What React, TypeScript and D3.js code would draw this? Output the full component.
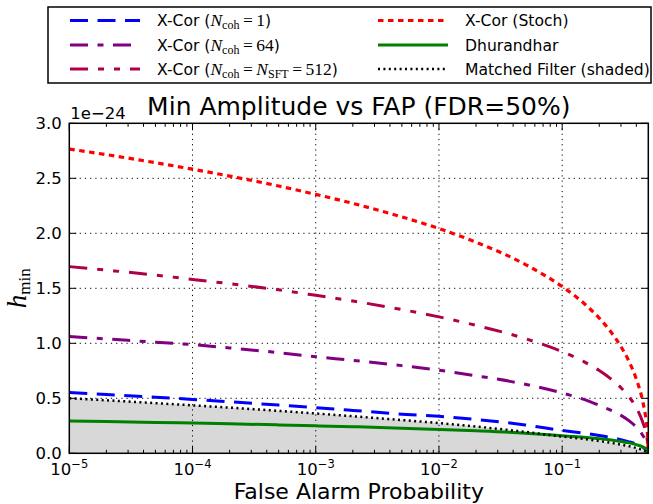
import React from 'react';
import * as d3 from 'd3';

// False alarm probabilities at which the curves were read
const FAP = [1e-5, 2e-5, 5e-5, 1e-4, 2e-4, 5e-4, 1e-3, 2e-3, 5e-3, 1e-2, 2e-2, 5e-2, 0.1, 0.15, 0.2, 0.25, 0.3, 0.35, 0.4, 0.45, 0.48, 0.49, 0.5];

// h_min values (units of 1e-24)
const XCOR_N1 = [0.552, 0.535, 0.510, 0.490, 0.468, 0.438, 0.415, 0.390, 0.356, 0.336, 0.307, 0.258, 0.208, 0.183, 0.162, 0.143, 0.124, 0.104, 0.082, 0.054, 0.032, 0.022, 0];
const XCOR_N64 = [1.062, 1.040, 1.010, 0.988, 0.958, 0.915, 0.878, 0.845, 0.797, 0.755, 0.705, 0.628, 0.548, 0.490, 0.436, 0.390, 0.345, 0.295, 0.238, 0.165, 0.105, 0.072, 0];
const XCOR_N512 = [1.697, 1.665, 1.620, 1.580, 1.542, 1.486, 1.436, 1.384, 1.307, 1.240, 1.163, 1.043, 0.924, 0.833, 0.752, 0.674, 0.596, 0.511, 0.414, 0.285, 0.180, 0.125, 0];
const XCOR_STOCH = [2.766, 2.715, 2.642, 2.583, 2.520, 2.430, 2.354, 2.272, 2.149, 2.043, 1.919, 1.718, 1.516, 1.364, 1.229, 1.100, 0.970, 0.831, 0.674, 0.475, 0.300, 0.212, 0];
const DHURANDHAR = [0.294, 0.2885, 0.281, 0.2745, 0.268, 0.258, 0.250, 0.2415, 0.2285, 0.217, 0.204, 0.183, 0.160, 0.146, 0.133, 0.121, 0.108, 0.095, 0.079, 0.058, 0.038, 0.028, 0];
const MATCHED = [0.500, 0.482, 0.456, 0.436, 0.415, 0.386, 0.362, 0.337, 0.302, 0.275, 0.243, 0.195, 0.152, 0.130, 0.112, 0.095, 0.079, 0.064, 0.048, 0.029, 0.015, 0.009, 0];

const X_MAJOR = [1e-5, 1e-4, 1e-3, 1e-2, 1e-1];
const X_EXP = ['-5', '-4', '-3', '-2', '-1'];
const Y_TICKS = [0, 0.5, 1.0, 1.5, 2.0, 2.5, 3.0];

const W = 653, H = 504;
const L = 69.3, R = 648.3, T = 123.3, B = 453.3;

const SANS = 'DejaVu Sans';
const SERIF = 'Liberation Serif';
const LEG_FS = 15.6;
const MATH_FS = 17.5;

export default function App() {
  const x = d3.scaleLog().domain([1e-5, 0.5]).range([L, R]);
  const y = d3.scaleLinear().domain([0, 3]).range([B, T]);

  const mkLine = (vals: number[]) =>
    d3.line<number>().x((_, i) => x(FAP[i])).y(d => y(d)).curve(d3.curveMonotoneX)(vals) || '';
  const areaPath = d3.area<number>().x((_, i) => x(FAP[i])).y0(y(0)).y1(d => y(d)).curve(d3.curveMonotoneX)(MATCHED) || '';

  const minors: number[] = [];
  for (let k = -5; k <= -1; k++) for (let m = 2; m <= 9; m++) { const v = m * Math.pow(10, k); if (v < 0.5) minors.push(v); }

  const series = [
    { vals: XCOR_N1, color: '#0000ff', dash: '18,9.5', w: 3 },
    { vals: XCOR_N64, color: '#800080', dash: '18,9.5,6,9.5', w: 3 },
    { vals: XCOR_N512, color: '#b0004a', dash: '18,10,6,10,6,10', w: 3 },
    { vals: XCOR_STOCH, color: '#ff0000', dash: '5.5,4.5', w: 3.2 },
    { vals: DHURANDHAR, color: '#008000', dash: '', w: 3 },
    { vals: MATCHED, color: '#000000', dash: '2,3.4', w: 2.5 },
  ];

  const legendRows = [20.5, 45, 69];
  const coh = (
    <>
      <tspan fontFamily={SERIF} fontStyle="italic" fontSize={MATH_FS}>N</tspan>
      <tspan fontFamily={SERIF} fontSize={12} dy={3}>coh</tspan>
      <tspan fontFamily={SERIF} fontSize={MATH_FS} dy={-3}>{'\u2009=\u2009'}</tspan>
    </>
  );

  return (
    <svg width={W} height={H} style={{ position: 'absolute', left: 0, top: 0, background: '#fff' }}>
      <defs>
        <clipPath id="plot"><rect x={L} y={T} width={R - L} height={B - T} /></clipPath>
      </defs>
      <rect x={0} y={0} width={W} height={H} fill="#fff" />
      {/* shaded matched filter region */}
      <path d={areaPath} fill="#d8d8d8" clipPath="url(#plot)" />
      {/* grid */}
      {X_MAJOR.slice(1).map(v => (
        <line key={'gx' + v} x1={x(v)} x2={x(v)} y1={T} y2={B} stroke="#000" strokeWidth={1} strokeDasharray="1.2,4" />
      ))}
      {Y_TICKS.slice(1, -1).map(v => (
        <line key={'gy' + v} x1={L} x2={R} y1={y(v)} y2={y(v)} stroke="#000" strokeWidth={1} strokeDasharray="1.2,4" />
      ))}
      {/* series */}
      <g clipPath="url(#plot)">
        {series.map((s, i) => (
          <path key={i} d={mkLine(s.vals)} fill="none" stroke={s.color} strokeWidth={s.w} strokeDasharray={s.dash || undefined} />
        ))}
      </g>
      {/* ticks */}
      {X_MAJOR.map(v => (
        <g key={'tx' + v}>
          <line x1={x(v)} x2={x(v)} y1={B} y2={B - 7} stroke="#000" strokeWidth={1} />
          <line x1={x(v)} x2={x(v)} y1={T} y2={T + 7} stroke="#000" strokeWidth={1} />
        </g>
      ))}
      {minors.map(v => (
        <g key={'mx' + v}>
          <line x1={x(v)} x2={x(v)} y1={B} y2={B - 3.5} stroke="#000" strokeWidth={1} />
          <line x1={x(v)} x2={x(v)} y1={T} y2={T + 3.5} stroke="#000" strokeWidth={1} />
        </g>
      ))}
      {Y_TICKS.map(v => (
        <g key={'ty' + v}>
          <line x1={L} x2={L + 7} y1={y(v)} y2={y(v)} stroke="#000" strokeWidth={1} />
          <line x1={R} x2={R - 7} y1={y(v)} y2={y(v)} stroke="#000" strokeWidth={1} />
        </g>
      ))}
      {/* frame */}
      <rect x={L} y={T} width={R - L} height={B - T} fill="none" stroke="#000" strokeWidth={1.5} />
      {/* tick labels */}
      {Y_TICKS.map(v => (
        <text key={'ly' + v} x={L - 7.5} y={y(v) + 6} textAnchor="end" fontFamily={SANS} fontSize={16.5} fill="#000">{v.toFixed(1)}</text>
      ))}
      {X_MAJOR.map((v, i) => (
        <text key={'lx' + v} x={x(v)} y={475} textAnchor="middle" fontFamily={SANS} fontSize={16.5} fill="#000">
          10<tspan fontSize={11.5} dy={-7}>{X_EXP[i].replace('-', '\u2212')}</tspan>
        </text>
      ))}
      <text x={L + 1} y={119} fontFamily={SANS} fontSize={16.5} fill="#000">1e{'\u2212'}24</text>
      {/* titles */}
      <text x={(L + R) / 2} y={115} textAnchor="middle" fontFamily={SANS} fontSize={25} fill="#000">Min Amplitude vs FAP (FDR=50%)</text>
      <text x={(L + R) / 2} y={498.5} textAnchor="middle" fontFamily={SANS} fontSize={22} fill="#000">False Alarm Probability</text>
      <text transform={`translate(26,${(T + B) / 2}) rotate(-90)`} textAnchor="middle" fill="#000">
        <tspan fontFamily={SERIF} fontStyle="italic" fontSize={27}>h</tspan>
        <tspan fontFamily={SERIF} fontSize={17} dy={4}>min</tspan>
      </text>
      {/* legend */}
      <rect x={48} y={7} width={603} height={76} fill="#fff" stroke="#000" strokeWidth={1.5} />
      {series.map((s, i) => {
        const col = i < 3 ? 0 : 1;
        const row = i % 3;
        const lx = col === 0 ? 70 : 378;
        const yy = legendRows[row];
        return (
          <line key={'lg' + i} x1={lx} x2={lx + 70} y1={yy} y2={yy} stroke={s.color} strokeWidth={s.w} strokeDasharray={s.dash || undefined} />
        );
      })}
      <text x={157} y={legendRows[0] + 5.5} fontFamily={SANS} fontSize={LEG_FS} fill="#000">
        X-Cor ({coh}<tspan fontFamily={SERIF} fontSize={MATH_FS}>1</tspan><tspan fontFamily={SANS} fontSize={LEG_FS}>)</tspan>
      </text>
      <text x={157} y={legendRows[1] + 5.5} fontFamily={SANS} fontSize={LEG_FS} fill="#000">
        X-Cor ({coh}<tspan fontFamily={SERIF} fontSize={MATH_FS}>64</tspan><tspan fontFamily={SANS} fontSize={LEG_FS}>)</tspan>
      </text>
      <text x={157} y={legendRows[2] + 5.5} fontFamily={SANS} fontSize={LEG_FS} fill="#000">
        X-Cor ({coh}
        <tspan fontFamily={SERIF} fontStyle="italic" fontSize={MATH_FS}>N</tspan>
        <tspan fontFamily={SERIF} fontSize={12} dy={3}>SFT</tspan>
        <tspan fontFamily={SERIF} fontSize={MATH_FS} dy={-3}>{'\u2009=\u2009'}512</tspan>
        <tspan fontFamily={SANS} fontSize={LEG_FS}>)</tspan>
      </text>
      <text x={465} y={legendRows[0] + 5.5} fontFamily={SANS} fontSize={LEG_FS} fill="#000">X-Cor (Stoch)</text>
      <text x={465} y={legendRows[1] + 5.5} fontFamily={SANS} fontSize={LEG_FS} fill="#000">Dhurandhar</text>
      <text x={465} y={legendRows[2] + 5.5} fontFamily={SANS} fontSize={LEG_FS} fill="#000">Matched Filter (shaded)</text>
    </svg>
  );
}
